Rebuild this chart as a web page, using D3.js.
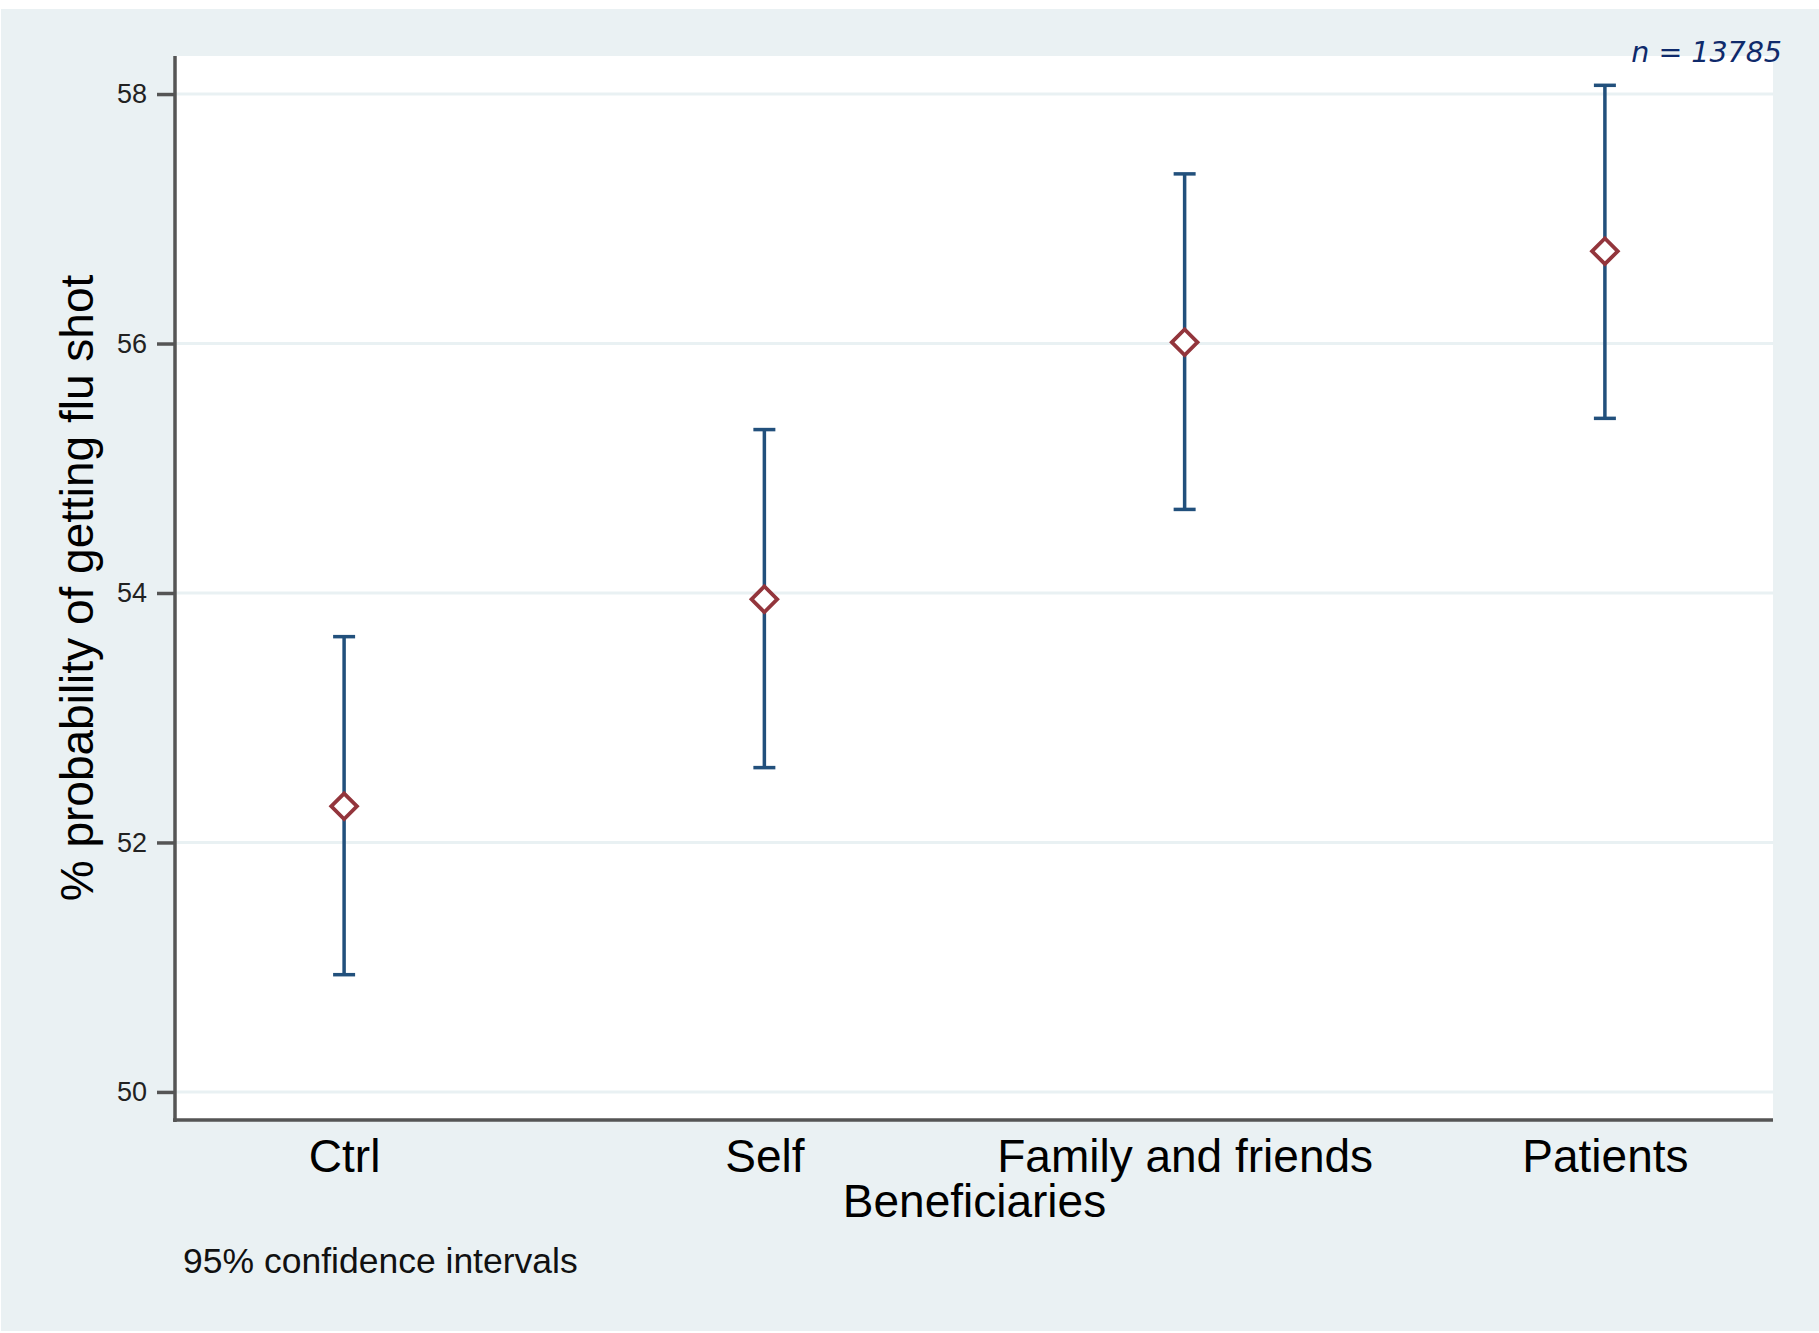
<!DOCTYPE html>
<html>
<head>
<meta charset="utf-8">
<script src="https://cdn.jsdelivr.net/npm/d3@7"></script>
<style>
  body { margin: 0; background: #fff; }
  text { font-family: "Liberation Sans", Arial, sans-serif; }
</style>
</head>
<body>
<svg id="chart"></svg>
<script>
// values
const categories = ["Ctrl", "Self", "Family and friends", "Patients"];
const means = [52.29, 53.95, 56.01, 56.74];
const lower = [50.94, 52.60, 54.67, 55.40];
const upper = [53.65, 55.31, 57.36, 58.07];
const yTicks = [50, 52, 54, 56, 58];

const W = 1819, H = 1333;
const plot = { left: 176, right: 1773, top: 56, bottom: 1120 };

const svg = d3.select("#chart")
    .attr("width", W)
    .attr("height", H);

// outer background
svg.append("rect")
    .attr("x", 1).attr("y", 9)
    .attr("width", W - 1).attr("height", H - 11)
    .attr("fill", "#eaf1f3");

svg.append("rect")
    .attr("x", plot.left).attr("y", plot.top)
    .attr("width", plot.right - plot.left)
    .attr("height", plot.bottom - plot.top)
    .attr("fill", "#fff");

const x = d3.scaleLinear()
    .domain([0.6, 4.4])
    .range([plot.left, plot.right]);

const y = d3.scaleLinear()
    .domain([49.775, 58.305])
    .range([plot.bottom, plot.top]);

// gridlines
svg.selectAll(".grid")
    .data(yTicks)
    .enter().append("line")
    .attr("class", "grid")
    .attr("x1", plot.left).attr("x2", plot.right)
    .attr("y1", d => y(d)).attr("y2", d => y(d))
    .style("stroke", "#e9f1f3")
    .style("stroke-width", 3);

// y axis
const yAxis = svg.append("g")
    .attr("transform", `translate(${plot.left - 1},0)`)
    .call(d3.axisLeft(y).tickValues(yTicks).tickSize(18).tickPadding(10).tickFormat(d3.format("d")));
yAxis.select(".domain").remove();
yAxis.selectAll(".tick line").style("stroke", "#555").style("stroke-width", 3.5);
yAxis.selectAll(".tick text")
    .style("font-size", "27px")
    .style("fill", "#222")
    .style("font-family", "'Liberation Sans', Arial, sans-serif");

// x axis labels
const xAxis = svg.append("g")
    .attr("transform", `translate(0,${plot.bottom})`)
    .call(d3.axisBottom(x).tickValues([1, 2, 3, 4]).tickSize(0).tickPadding(19)
        .tickFormat((d, i) => categories[i]));
xAxis.select(".domain").remove();
xAxis.selectAll(".tick text")
    .style("font-size", "46px")
    .style("fill", "#000")
    .style("font-family", "'Liberation Sans', Arial, sans-serif");

// axis lines
svg.append("line")
    .attr("x1", plot.left - 1).attr("x2", plot.left - 1)
    .attr("y1", plot.top).attr("y2", plot.bottom + 2)
    .style("stroke", "#555").style("stroke-width", 3.5);
svg.append("line")
    .attr("x1", plot.left - 3).attr("x2", plot.right)
    .attr("y1", plot.bottom).attr("y2", plot.bottom)
    .style("stroke", "#555").style("stroke-width", 3.5);

// error bars
const bars = svg.selectAll(".ci")
    .data(categories)
    .enter().append("g")
    .attr("class", "ci")
    .style("stroke", "#22507c")
    .style("stroke-width", 3.5);

bars.append("line")
    .attr("x1", (d, i) => x(i + 1)).attr("x2", (d, i) => x(i + 1))
    .attr("y1", (d, i) => y(upper[i])).attr("y2", (d, i) => y(lower[i]));
bars.append("line")
    .attr("x1", (d, i) => x(i + 1) - 11).attr("x2", (d, i) => x(i + 1) + 11)
    .attr("y1", (d, i) => y(upper[i])).attr("y2", (d, i) => y(upper[i]));
bars.append("line")
    .attr("x1", (d, i) => x(i + 1) - 11).attr("x2", (d, i) => x(i + 1) + 11)
    .attr("y1", (d, i) => y(lower[i])).attr("y2", (d, i) => y(lower[i]));

// hollow diamond markers
svg.selectAll(".pt")
    .data(means)
    .enter().append("path")
    .attr("class", "pt")
    .attr("d", d3.symbol(d3.symbolSquare, 330))
    .attr("transform", (d, i) => `translate(${x(i + 1)},${y(d)}) rotate(45)`)
    .style("fill", "#fff")
    .style("stroke", "#93353c")
    .style("stroke-width", 3.8);

// titles
svg.append("text")
    .attr("x", (plot.left + plot.right) / 2)
    .attr("y", 1217)
    .attr("text-anchor", "middle")
    .style("font-size", "46px")
    .text("Beneficiaries");

svg.append("text")
    .attr("transform", `translate(93,${(plot.top + plot.bottom) / 2}) rotate(-90)`)
    .attr("text-anchor", "middle")
    .style("font-size", "46px")
    .text("% probability of getting flu shot");

svg.append("text")
    .attr("x", 183)
    .attr("y", 1273)
    .style("font-size", "35.5px")
    .style("fill", "#111")
    .text("95% confidence intervals");

svg.append("text")
    .attr("x", 1782)
    .attr("y", 62)
    .attr("text-anchor", "end")
    .style("font-family", "'DejaVu Sans', Verdana, sans-serif")
    .style("font-style", "italic")
    .style("font-size", "28.5px")
    .style("fill", "#0f2a6b")
    .text("n = 13785");
</script>
</body>
</html>
